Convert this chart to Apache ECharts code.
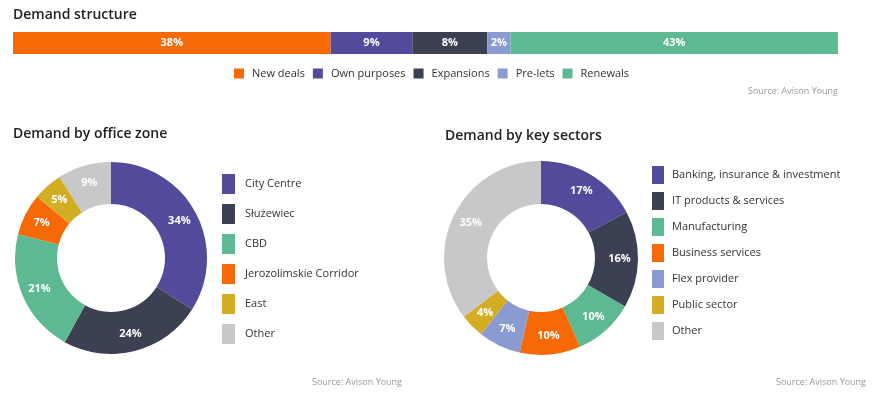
<!DOCTYPE html>
<html>
<head>
<meta charset="utf-8">
<script src="https://cdn.jsdelivr.net/npm/echarts@6/dist/echarts.min.js"></script>
<style>
html,body{margin:0;padding:0;background:#fff;}
#chart{width:878px;height:394px;}
</style>
</head>
<body>
<div id="chart"></div>
<script>
// Demand structure (stacked bar)
var structureNames = ['New deals', 'Own purposes', 'Expansions', 'Pre-lets', 'Renewals'];
var structureValues = [38.5, 9.9, 9.1, 2.8, 39.7];
var structureLabels = ['38%', '9%', '8%', '2%', '43%'];

// Demand by office zone
var zoneNames = ['City Centre', 'Służewiec', 'CBD', 'Jerozolimskie Corridor', 'East', 'Other'];
var zoneValues = [34, 24, 21, 7, 5, 9];

// Demand by key sectors
var sectorNames = ['Banking, insurance & investment', 'IT products & services', 'Manufacturing', 'Business services', 'Flex provider', 'Public sector', 'Other'];
var sectorValues = [17, 16, 10, 10, 7, 4, 35];

var C = {
  orange: '#F56A06',
  purple: '#524A9A',
  navy: '#3B4052',
  lilac: '#8A9BD1',
  green: '#5DB992',
  yellow: '#D3AE25',
  grey: '#C8C8CA'
};
var structureColors = [C.orange, C.purple, C.navy, C.lilac, C.green];
var zoneColors = [C.purple, C.navy, C.green, C.orange, C.yellow, C.grey];
var sectorColors = [C.purple, C.navy, C.green, C.orange, C.lilac, C.yellow, C.grey];

var FONT = '"Open Sans", "Noto Sans", sans-serif';

var chart = echarts.init(document.getElementById('chart'), null, {renderer: 'canvas'});

var barSeries = structureNames.map(function (n, i) {
  return {
    name: n,
    type: 'bar',
    stack: 'total',
    barWidth: 22,
    silent: true,
    itemStyle: {color: structureColors[i]},
    label: {
      show: true,
      position: 'inside',
      color: '#fff',
      fontFamily: FONT,
      fontWeight: 'bold',
      fontSize: 11,
      formatter: function () { return structureLabels[i]; }
    },
    data: [structureValues[i]]
  };
});

function pieData(names, values, colors) {
  return names.map(function (n, i) {
    return {name: n, value: values[i], itemStyle: {color: colors[i]}};
  });
}

var pieLabel = {
  show: true,
  position: 'inside',
  color: '#fff',
  fontFamily: FONT,
  fontWeight: 'bold',
  fontSize: 11,
  formatter: '{c}%'
};

var titleStyle = {fontFamily: FONT, fontWeight: 600, fontSize: 14, color: '#222'};
function legendText(gap) {
  return {fontFamily: FONT, fontSize: 11, color: '#333', padding: [0, 0, 0, gap]};
}

var option = {
  animation: false,
  backgroundColor: '#fff',
  title: [
    {text: 'Demand structure', left: 8, top: 3, textStyle: titleStyle},
    {text: 'Demand by office zone', left: 8, top: 122, textStyle: titleStyle},
    {text: 'Demand by key sectors', left: 440, top: 124, textStyle: titleStyle}
  ],
  grid: {left: 13, right: 40, top: 32, height: 22, containLabel: false},
  xAxis: {type: 'value', min: 0, max: 100, show: false},
  yAxis: {type: 'category', data: ['Demand'], show: false},
  legend: [
    {
      data: structureNames,
      left: 229, top: 63,
      orient: 'horizontal',
      itemWidth: 10, itemHeight: 10, itemGap: 8,
      icon: 'rect',
      selectedMode: false,
      textStyle: legendText(3)
    },
    {
      data: zoneNames,
      left: 217, top: 169,
      orient: 'vertical',
      itemWidth: 13, itemHeight: 20, itemGap: 10,
      icon: 'rect',
      selectedMode: false,
      textStyle: legendText(5)
    },
    {
      data: sectorNames,
      left: 647, top: 161,
      orient: 'vertical',
      itemWidth: 12, itemHeight: 18, itemGap: 8,
      icon: 'rect',
      selectedMode: false,
      textStyle: legendText(3)
    }
  ],
  series: barSeries.concat([
    {
      name: 'Office zone',
      type: 'pie',
      center: [111, 258],
      radius: [54, 96],
      startAngle: 90,
      clockwise: true,
      silent: true,
      label: pieLabel,
      labelLine: {show: false},
      data: pieData(zoneNames, zoneValues, zoneColors)
    },
    {
      name: 'Key sectors',
      type: 'pie',
      center: [541, 258],
      radius: [54, 97],
      startAngle: 90,
      clockwise: true,
      silent: true,
      label: pieLabel,
      labelLine: {show: false},
      data: pieData(sectorNames, sectorValues, sectorColors)
    }
  ]),
  graphic: [
    {type: 'text', x: 838, y: 91, style: {text: 'Source: Avison Young', align: 'right', verticalAlign: 'middle', fontFamily: FONT, fontSize: 9, fill: '#999'}},
    {type: 'text', x: 402, y: 382, style: {text: 'Source: Avison Young', align: 'right', verticalAlign: 'middle', fontFamily: FONT, fontSize: 9, fill: '#999'}},
    {type: 'text', x: 866, y: 382, style: {text: 'Source: Avison Young', align: 'right', verticalAlign: 'middle', fontFamily: FONT, fontSize: 9, fill: '#999'}}
  ]
};

chart.setOption(option);
</script>
</body>
</html>
